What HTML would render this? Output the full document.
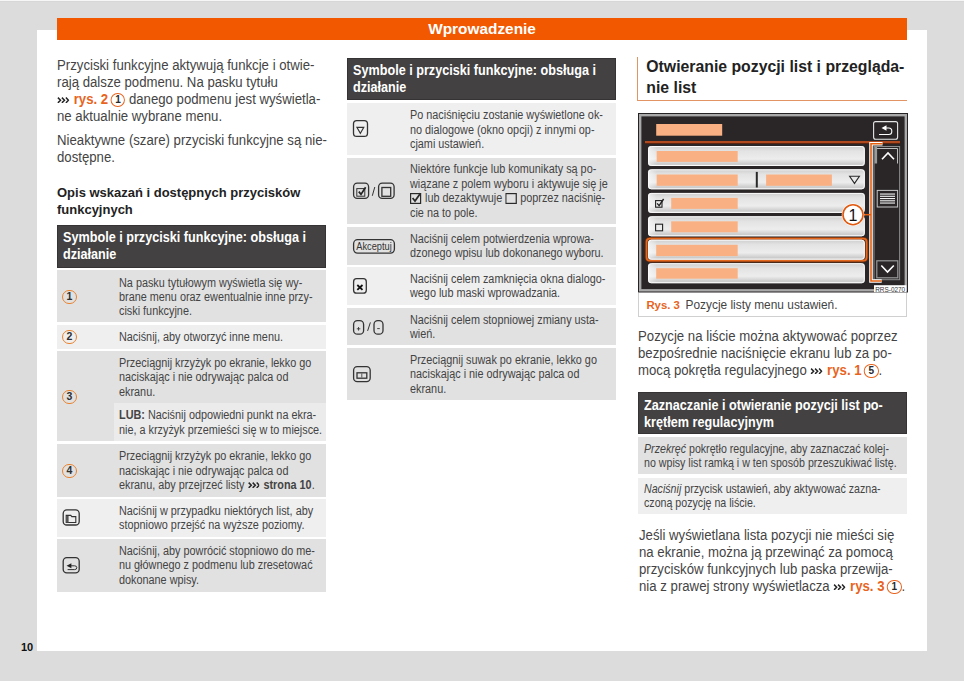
<!DOCTYPE html>
<html><head><meta charset="utf-8"><style>
html,body{margin:0;padding:0;}
body{width:964px;height:681px;background:#dcdcdc;position:relative;overflow:hidden;font-family:"Liberation Sans", sans-serif;}
.b{position:absolute;white-space:nowrap;}
.r{position:absolute;box-sizing:border-box;}
.lk{color:#e8641e;font-weight:bold;}
.ar{vertical-align:0.7px;}
.c{display:inline-block;box-sizing:border-box;width:14.5px;height:14.5px;border:1.4px solid #e8641e;border-radius:50%;text-align:center;line-height:11.7px;font-size:10.5px;font-weight:bold;vertical-align:1.3px;color:#2a2a2a;margin-left:-1.2px;}
.cc{position:absolute;box-sizing:border-box;width:14.3px;height:14.3px;border:1.5px solid #e8822e;border-radius:50%;text-align:center;font-size:10.5px;line-height:11.6px;font-weight:bold;color:#2e2e2e;}
.cbx{vertical-align:-1.5px;}
</style></head><body>
<div class="r" style="left:0px;top:0px;width:964.00px;height:1.00px;background:#f6f6f6;"></div>
<div class="r" style="left:0px;top:1px;width:964.00px;height:1.00px;background:#d7d7d7;"></div>
<div class="r" style="left:37px;top:30px;width:890.00px;height:621.00px;background:#fff;"></div>
<div class="r" style="left:57px;top:18px;width:850.00px;height:22.00px;background:#f25800;"></div>
<div class="b" style="left:57px;width:850px;text-align:center;top:18.50px;font-size:15.4px;line-height:20px;color:#fff;font-weight:bold">Wprowadzenie</div>
<div class="b" style="left:21px;top:640.00px;font-size:11px;line-height:14px;color:#111;font-weight:bold">10</div>
<div class="b" style="left:57px;top:56px;font-size:13.8px;line-height:19px;color:#444444;font-weight:normal;transform:scaleX(0.9565);transform-origin:0 0;--k:0.9565;">Przyciski funkcyjne aktywują funkcje i otwie-</div>
<div class="b" style="left:57px;top:73px;font-size:13.8px;line-height:19px;color:#444444;font-weight:normal;transform:scaleX(0.9565);transform-origin:0 0;--k:0.9565;">rają dalsze podmenu. Na pasku tytułu</div>
<div class="b" style="left:57px;top:90px;font-size:13.8px;line-height:19px;color:#444444;font-weight:normal;transform:scaleX(0.9565);transform-origin:0 0;--k:0.9565;"><svg class="ar" width="12.55" height="6.5" viewBox="0 0 12 6.5" preserveAspectRatio="none" style="margin-right:1.05px"><path d="M0.9 0.6 L3.5 3.25 L0.9 5.9 M4.9 0.6 L7.5 3.25 L4.9 5.9 M8.9 0.6 L11.4 3.25 L8.9 5.9" fill="none" stroke="#262626" stroke-width="1.5"/></svg> <b class="lk">rys. 2</b> <span class="c" style="width:15.16px">1</span> danego podmenu jest wyświetla-</div>
<div class="b" style="left:57px;top:107px;font-size:13.8px;line-height:19px;color:#444444;font-weight:normal;transform:scaleX(0.9565);transform-origin:0 0;--k:0.9565;">ne aktualnie wybrane menu.</div>
<div class="b" style="left:57px;top:131px;font-size:13.8px;line-height:19px;color:#444444;font-weight:normal;transform:scaleX(0.9565);transform-origin:0 0;--k:0.9565;">Nieaktywne (szare) przyciski funkcyjne są nie-</div>
<div class="b" style="left:57px;top:148px;font-size:13.8px;line-height:19px;color:#444444;font-weight:normal;transform:scaleX(0.9565);transform-origin:0 0;--k:0.9565;">dostępne.</div>
<div class="b" style="left:57px;top:183px;font-size:13.7px;line-height:19px;color:#222;font-weight:bold;transform:scaleX(0.9489);transform-origin:0 0;--k:0.9489;">Opis wskazań i dostępnych przycisków</div>
<div class="b" style="left:57px;top:200px;font-size:13.7px;line-height:19px;color:#222;font-weight:bold;transform:scaleX(0.9489);transform-origin:0 0;--k:0.9489;">funkcyjnych</div>
<div class="r" style="left:57px;top:225px;width:269.00px;height:43.00px;background:#434141;border:1px solid #353333"></div>
<div class="b" style="left:62.8px;top:227px;font-size:14.2px;line-height:20px;color:#fff;font-weight:bold;transform:scaleX(0.8908);transform-origin:0 0;--k:0.8908;">Symbole i przyciski funkcyjne: obsługa i</div>
<div class="b" style="left:62.8px;top:244px;font-size:14.2px;line-height:20px;color:#fff;font-weight:bold;transform:scaleX(0.8908);transform-origin:0 0;--k:0.8908;">działanie</div>
<div class="r" style="left:57px;top:270px;width:269.00px;height:51.80px;background:#e1e1e1;"></div>
<div class="b" style="left:119.2px;top:274px;font-size:12.3px;line-height:18px;color:#444444;font-weight:normal;transform:scaleX(0.8821);transform-origin:0 0;--k:0.8821;">Na pasku tytułowym wyświetla się wy-</div>
<div class="b" style="left:119.2px;top:288px;font-size:12.3px;line-height:18px;color:#444444;font-weight:normal;transform:scaleX(0.8821);transform-origin:0 0;--k:0.8821;">brane menu oraz ewentualnie inne przy-</div>
<div class="b" style="left:119.2px;top:302px;font-size:12.3px;line-height:18px;color:#444444;font-weight:normal;transform:scaleX(0.8821);transform-origin:0 0;--k:0.8821;">ciski funkcyjne.</div>
<div class="cc" style="left:62.3px;top:289.80px">1</div>
<div class="r" style="left:57px;top:325px;width:269.00px;height:23.90px;background:#efefef;"></div>
<div class="b" style="left:119.2px;top:328px;font-size:12.3px;line-height:18px;color:#444444;font-weight:normal;transform:scaleX(0.8821);transform-origin:0 0;--k:0.8821;">Naciśnij, aby otworzyć inne menu.</div>
<div class="cc" style="left:62.3px;top:329.80px">2</div>
<div class="r" style="left:57px;top:351px;width:269.00px;height:90.30px;background:#e1e1e1;"></div>
<div class="b" style="left:119.2px;top:354px;font-size:12.3px;line-height:18px;color:#444444;font-weight:normal;transform:scaleX(0.8821);transform-origin:0 0;--k:0.8821;">Przeciągnij krzyżyk po ekranie, lekko go</div>
<div class="b" style="left:119.2px;top:368px;font-size:12.3px;line-height:18px;color:#444444;font-weight:normal;transform:scaleX(0.8821);transform-origin:0 0;--k:0.8821;">naciskając i nie odrywając palca od</div>
<div class="b" style="left:119.2px;top:383px;font-size:12.3px;line-height:18px;color:#444444;font-weight:normal;transform:scaleX(0.8821);transform-origin:0 0;--k:0.8821;">ekranu.</div>
<div class="cc" style="left:62.3px;top:389.70px">3</div>
<div class="r" style="left:57px;top:444px;width:269.00px;height:52.50px;background:#e1e1e1;"></div>
<div class="b" style="left:119.2px;top:447px;font-size:12.3px;line-height:18px;color:#444444;font-weight:normal;transform:scaleX(0.8821);transform-origin:0 0;--k:0.8821;">Przeciągnij krzyżyk po ekranie, lekko go</div>
<div class="b" style="left:119.2px;top:462px;font-size:12.3px;line-height:18px;color:#444444;font-weight:normal;transform:scaleX(0.8821);transform-origin:0 0;--k:0.8821;">naciskając i nie odrywając palca od</div>
<div class="b" style="left:119.2px;top:476px;font-size:12.3px;line-height:18px;color:#444444;font-weight:normal;transform:scaleX(0.8821);transform-origin:0 0;--k:0.8821;">ekranu, aby przejrzeć listy <svg class="ar" width="13.60" height="6.5" viewBox="0 0 12 6.5" preserveAspectRatio="none" style="margin-right:1.13px"><path d="M0.9 0.6 L3.5 3.25 L0.9 5.9 M4.9 0.6 L7.5 3.25 L4.9 5.9 M8.9 0.6 L11.4 3.25 L8.9 5.9" fill="none" stroke="#262626" stroke-width="1.5"/></svg> <b>strona 10</b>.</div>
<div class="cc" style="left:62.3px;top:463.50px">4</div>
<div class="r" style="left:57px;top:499.3px;width:269.00px;height:37.70px;background:#efefef;"></div>
<div class="b" style="left:119.2px;top:502px;font-size:12.3px;line-height:18px;color:#444444;font-weight:normal;transform:scaleX(0.8821);transform-origin:0 0;--k:0.8821;">Naciśnij w przypadku niektórych list, aby</div>
<div class="b" style="left:119.2px;top:516px;font-size:12.3px;line-height:18px;color:#444444;font-weight:normal;transform:scaleX(0.8821);transform-origin:0 0;--k:0.8821;">stopniowo przejść na wyższe poziomy.</div>
<svg class="r" style="left:0;top:0" width="120" height="600" viewBox="0 0 120 600"><rect x="63.2" y="509.9" width="16" height="15.1" rx="3.6" fill="none" stroke="#333" stroke-width="1.3"/><path d="M66.2 522.5 V515.4 H70.8 L71.8 516.6 H75.8 V522.5 Z" fill="none" stroke="#333" stroke-width="1.1"/><rect x="66.2" y="516" width="2.4" height="6.5" fill="#555"/></svg>
<div class="r" style="left:57px;top:539.4px;width:269.00px;height:52.60px;background:#e1e1e1;"></div>
<div class="b" style="left:119.2px;top:542px;font-size:12.3px;line-height:18px;color:#444444;font-weight:normal;transform:scaleX(0.8821);transform-origin:0 0;--k:0.8821;">Naciśnij, aby powrócić stopniowo do me-</div>
<div class="b" style="left:119.2px;top:556px;font-size:12.3px;line-height:18px;color:#444444;font-weight:normal;transform:scaleX(0.8821);transform-origin:0 0;--k:0.8821;">nu głównego z podmenu lub zresetować</div>
<div class="b" style="left:119.2px;top:571px;font-size:12.3px;line-height:18px;color:#444444;font-weight:normal;transform:scaleX(0.8821);transform-origin:0 0;--k:0.8821;">dokonane wpisy.</div>
<svg class="r" style="left:0;top:0" width="120" height="600" viewBox="0 0 120 600"><rect x="63.2" y="557.6" width="16" height="15.2" rx="3.6" fill="none" stroke="#333" stroke-width="1.3"/><path d="M66.6 565.7 L71.4 563.2 V568.2 Z" fill="#222"/><path d="M71 565.8 H74.6 Q76.8 565.8 76.8 567.7 Q76.8 569.6 74.6 569.6 H67.6" fill="none" stroke="#333" stroke-width="1"/></svg>
<div class="r" style="left:113.7px;top:402.6px;width:212.30px;height:38.70px;background:#ebebeb;"></div>
<div class="b" style="left:119.2px;top:406px;font-size:12.3px;line-height:18px;color:#444444;font-weight:normal;transform:scaleX(0.8821);transform-origin:0 0;--k:0.8821;"><b>LUB:</b> Naciśnij odpowiedni punkt na ekra-</div>
<div class="b" style="left:119.2px;top:421px;font-size:12.3px;line-height:18px;color:#444444;font-weight:normal;transform:scaleX(0.8821);transform-origin:0 0;--k:0.8821;">nie, a krzyżyk przemieści się w to miejsce.</div>
<div class="r" style="left:347px;top:57.5px;width:269.00px;height:42.70px;background:#434141;border:1px solid #353333"></div>
<div class="b" style="left:353.3px;top:60px;font-size:14.2px;line-height:20px;color:#fff;font-weight:bold;transform:scaleX(0.8908);transform-origin:0 0;--k:0.8908;">Symbole i przyciski funkcyjne: obsługa i</div>
<div class="b" style="left:353.3px;top:77px;font-size:14.2px;line-height:20px;color:#fff;font-weight:bold;transform:scaleX(0.8908);transform-origin:0 0;--k:0.8908;">działanie</div>
<div class="r" style="left:347px;top:102.5px;width:269.00px;height:52.50px;background:#efefef;"></div>
<div class="b" style="left:409.6px;top:106px;font-size:12.3px;line-height:18px;color:#444444;font-weight:normal;transform:scaleX(0.8821);transform-origin:0 0;--k:0.8821;">Po naciśnięciu zostanie wyświetlone ok-</div>
<div class="b" style="left:409.6px;top:121px;font-size:12.3px;line-height:18px;color:#444444;font-weight:normal;transform:scaleX(0.8821);transform-origin:0 0;--k:0.8821;">no dialogowe (okno opcji) z innymi op-</div>
<div class="b" style="left:409.6px;top:135px;font-size:12.3px;line-height:18px;color:#444444;font-weight:normal;transform:scaleX(0.8821);transform-origin:0 0;--k:0.8821;">cjami ustawień.</div>
<div class="r" style="left:347px;top:157.8px;width:269.00px;height:66.20px;background:#e1e1e1;"></div>
<div class="b" style="left:409.6px;top:160px;font-size:12.3px;line-height:18px;color:#444444;font-weight:normal;transform:scaleX(0.8821);transform-origin:0 0;--k:0.8821;">Niektóre funkcje lub komunikaty są po-</div>
<div class="b" style="left:409.6px;top:175px;font-size:12.3px;line-height:18px;color:#444444;font-weight:normal;transform:scaleX(0.8821);transform-origin:0 0;--k:0.8821;">wiązane z polem wyboru i aktywuje się je</div>
<div class="b" style="left:409.6px;top:189px;font-size:12.3px;line-height:18px;color:#444444;font-weight:normal;transform:scaleX(0.8821);transform-origin:0 0;--k:0.8821;"><svg class="cbx" width="13.60" height="12" viewBox="0 0 12 12" preserveAspectRatio="none"><rect x="0.6" y="1.6" width="10" height="9.8" fill="none" stroke="#2a2a2a" stroke-width="1.2"/><path d="M2.6 6 L5 9 L10.5 1.2" fill="none" stroke="#2a2a2a" stroke-width="1.8"/></svg> lub dezaktywuje <svg class="cbx" width="13.60" height="12" viewBox="0 0 12 12" preserveAspectRatio="none"><rect x="0.6" y="1.6" width="10.4" height="9.8" fill="none" stroke="#2a2a2a" stroke-width="1.2"/></svg> poprzez naciśnię-</div>
<div class="b" style="left:409.6px;top:204px;font-size:12.3px;line-height:18px;color:#444444;font-weight:normal;transform:scaleX(0.8821);transform-origin:0 0;--k:0.8821;">cie na to pole.</div>
<div class="r" style="left:347px;top:227px;width:269.00px;height:37.50px;background:#e1e1e1;"></div>
<div class="b" style="left:409.6px;top:230px;font-size:12.3px;line-height:18px;color:#444444;font-weight:normal;transform:scaleX(0.8821);transform-origin:0 0;--k:0.8821;">Naciśnij celem potwierdzenia wprowa-</div>
<div class="b" style="left:409.6px;top:244px;font-size:12.3px;line-height:18px;color:#444444;font-weight:normal;transform:scaleX(0.8821);transform-origin:0 0;--k:0.8821;">dzonego wpisu lub dokonanego wyboru.</div>
<div class="r" style="left:347px;top:267.4px;width:269.00px;height:37.40px;background:#efefef;"></div>
<div class="b" style="left:409.6px;top:270px;font-size:12.3px;line-height:18px;color:#444444;font-weight:normal;transform:scaleX(0.8821);transform-origin:0 0;--k:0.8821;">Naciśnij celem zamknięcia okna dialogo-</div>
<div class="b" style="left:409.6px;top:284px;font-size:12.3px;line-height:18px;color:#444444;font-weight:normal;transform:scaleX(0.8821);transform-origin:0 0;--k:0.8821;">wego lub maski wprowadzania.</div>
<div class="r" style="left:347px;top:308px;width:269.00px;height:37.30px;background:#e1e1e1;"></div>
<div class="b" style="left:409.6px;top:311px;font-size:12.3px;line-height:18px;color:#444444;font-weight:normal;transform:scaleX(0.8821);transform-origin:0 0;--k:0.8821;">Naciśnij celem stopniowej zmiany usta-</div>
<div class="b" style="left:409.6px;top:325px;font-size:12.3px;line-height:18px;color:#444444;font-weight:normal;transform:scaleX(0.8821);transform-origin:0 0;--k:0.8821;">wień.</div>
<div class="r" style="left:347px;top:348.4px;width:269.00px;height:51.80px;background:#e1e1e1;"></div>
<div class="b" style="left:409.6px;top:351px;font-size:12.3px;line-height:18px;color:#444444;font-weight:normal;transform:scaleX(0.8821);transform-origin:0 0;--k:0.8821;">Przeciągnij suwak po ekranie, lekko go</div>
<div class="b" style="left:409.6px;top:365px;font-size:12.3px;line-height:18px;color:#444444;font-weight:normal;transform:scaleX(0.8821);transform-origin:0 0;--k:0.8821;">naciskając i nie odrywając palca od</div>
<div class="b" style="left:409.6px;top:380px;font-size:12.3px;line-height:18px;color:#444444;font-weight:normal;transform:scaleX(0.8821);transform-origin:0 0;--k:0.8821;">ekranu.</div>
<svg class="r" style="left:340px;top:100px" width="70" height="300" viewBox="340 100 70 300"><rect x="353.5" y="120.6" width="14" height="15.8" rx="3.2" fill="none" stroke="#333" stroke-width="1.3"/><path d="M356.9 127.4 H363.8 L360.35 133.3 Z" fill="none" stroke="#333" stroke-width="1.1"/><rect x="353.6" y="183.1" width="15" height="15.3" rx="3.6" fill="none" stroke="#333" stroke-width="1.3"/><rect x="356.8" y="188.6" width="8" height="7.6" fill="none" stroke="#333" stroke-width="1"/><path d="M358.8 191.6 L361 194.4 L365.6 187.2" fill="none" stroke="#222" stroke-width="1.7"/><path d="M374.8 187 L372.3 195.8" stroke="#333" stroke-width="1"/><rect x="378.6" y="183.1" width="15.5" height="15.3" rx="3.6" fill="none" stroke="#333" stroke-width="1.3"/><rect x="381.9" y="187.5" width="8.8" height="8.8" fill="none" stroke="#333" stroke-width="1.3"/><rect x="353.6" y="239.7" width="40.8" height="13.4" rx="4" fill="none" stroke="#333" stroke-width="1.3"/><text x="374" y="250.4" text-anchor="middle" font-family="Liberation Sans" font-size="10.4" fill="#333" textLength="35.5" lengthAdjust="spacingAndGlyphs">Akceptuj</text><rect x="353.6" y="278.7" width="12.7" height="14.5" rx="3" fill="none" stroke="#333" stroke-width="1.3"/><path d="M357.3 285 L362.5 289.8 M362.5 285 L357.3 289.8" stroke="#111" stroke-width="1.8"/><rect x="353.6" y="320.6" width="10" height="13.6" rx="3.8" fill="none" stroke="#333" stroke-width="1.3"/><path d="M356.8 328.8 H360.3 M358.55 327 V330.6" stroke="#333" stroke-width="0.9"/><path d="M370.4 322.4 L367.6 330.9" stroke="#333" stroke-width="1"/><rect x="374" y="320.6" width="9" height="13.6" rx="3.8" fill="none" stroke="#333" stroke-width="1.3"/><path d="M377.2 328.6 H379.8" stroke="#333" stroke-width="0.9"/><rect x="353.6" y="366.6" width="16.6" height="15" rx="3.6" fill="none" stroke="#333" stroke-width="1.3"/><rect x="357" y="372.8" width="9.8" height="5.4" fill="none" stroke="#333" stroke-width="1.3"/><path d="M361.8 373.4 V377.6" stroke="#555" stroke-width="1"/></svg>
<div class="r" style="left:637px;top:57px;width:1.00px;height:44.00px;background:#e39465;"></div>
<div class="r" style="left:637px;top:100px;width:270.00px;height:1.00px;background:#e39465;"></div>
<div class="b" style="left:646.3px;top:56px;font-size:15.8px;line-height:21px;color:#222;font-weight:bold;">Otwieranie pozycji list i przegląda-</div>
<div class="b" style="left:646.3px;top:77px;font-size:15.8px;line-height:21px;color:#222;font-weight:bold;">nie list</div>
<svg class="r" style="left:636px;top:110px" width="275" height="185" viewBox="636 110 275 185"><defs><linearGradient id="ig" x1="0" y1="0" x2="0" y2="1"><stop offset="0" stop-color="#cdcdcd"/><stop offset="0.25" stop-color="#e3e3e3"/><stop offset="0.65" stop-color="#ededed"/><stop offset="0.9" stop-color="#cbcbcb"/><stop offset="1" stop-color="#d8d8d8"/></linearGradient><linearGradient id="lg" x1="0" y1="0" x2="1" y2="0"><stop offset="0" stop-color="#fff" stop-opacity="0.5"/><stop offset="1" stop-color="#fff" stop-opacity="0"/></linearGradient></defs><rect x="638" y="113" width="270" height="179.5" fill="#262324"/><rect x="640.2" y="115.2" width="265.6" height="175.1" fill="#2a2627" stroke="#a9a9a9" stroke-width="2.4"/><rect x="656.2" y="124" width="66" height="11.7" fill="#f9b184"/><rect x="873.6" y="121.6" width="24" height="17.6" rx="2" fill="none" stroke="#e6e6e6" stroke-width="1.1"/><path d="M881.5 128 L886.5 125.3 V130.8 Z" fill="#fff"/><path d="M886 128 H888.8 Q891.8 128 891.8 131.2 Q891.8 134.5 888.8 134.5 H879" fill="none" stroke="#fff" stroke-width="1.1"/><rect x="645" y="141" width="255" height="2" fill="#b04a1e"/><rect x="645" y="143" width="255" height="1" fill="#5a2410"/><rect x="648" y="146" width="216.8" height="20" rx="3" fill="url(#ig)"/><rect x="648.5" y="146.5" width="215.8" height="19" rx="2.8" fill="none" stroke="#fafafa" stroke-width="1"/><rect x="649" y="147" width="8" height="18" fill="url(#lg)"/><rect x="648" y="169.3" width="216.8" height="20" rx="3" fill="url(#ig)"/><rect x="648.5" y="169.8" width="215.8" height="19" rx="2.8" fill="none" stroke="#fafafa" stroke-width="1"/><rect x="649" y="170.3" width="8" height="18" fill="url(#lg)"/><rect x="648" y="192.9" width="216.8" height="20" rx="3" fill="url(#ig)"/><rect x="648.5" y="193.4" width="215.8" height="19" rx="2.8" fill="none" stroke="#fafafa" stroke-width="1"/><rect x="649" y="193.9" width="8" height="18" fill="url(#lg)"/><rect x="648" y="216.3" width="216.8" height="20" rx="3" fill="url(#ig)"/><rect x="648.5" y="216.8" width="215.8" height="19" rx="2.8" fill="none" stroke="#fafafa" stroke-width="1"/><rect x="649" y="217.3" width="8" height="18" fill="url(#lg)"/><rect x="646.3" y="238.39999999999998" width="220.6" height="22.6" rx="3.5" fill="none" stroke="#6a2c0c" stroke-width="3"/><rect x="646.6" y="238.7" width="220" height="22" rx="3.2" fill="none" stroke="#e4691e" stroke-width="1.8"/><rect x="648" y="239.7" width="216.8" height="20" rx="3" fill="url(#ig)"/><rect x="648.5" y="240.2" width="215.8" height="19" rx="2.8" fill="none" stroke="#fafafa" stroke-width="1"/><rect x="649" y="240.7" width="8" height="18" fill="url(#lg)"/><rect x="648" y="263.2" width="216.8" height="20" rx="3" fill="url(#ig)"/><rect x="648.5" y="263.7" width="215.8" height="19" rx="2.8" fill="none" stroke="#fafafa" stroke-width="1"/><rect x="649" y="264.2" width="8" height="18" fill="url(#lg)"/><rect x="656.7" y="151" width="81" height="10.9" fill="#f9b184"/><rect x="656.7" y="174.5" width="81" height="11.3" fill="#f9b184"/><rect x="755.8" y="171.9" width="2" height="15.6" fill="#2a2a2a"/><rect x="766.1" y="174.5" width="65.8" height="11.3" fill="#f9b184"/><path d="M849.6 176.2 H859.4 L854.5 183.4 Z" fill="none" stroke="#2a2a2a" stroke-width="1.1"/><rect x="671.2" y="197.9" width="66.5" height="11" fill="#f9b184"/><rect x="655.6" y="200.6" width="6.4" height="6.6" fill="none" stroke="#222" stroke-width="1.1"/><path d="M657.1 203.4 L659.1 205.6 L663.6 199" fill="none" stroke="#222" stroke-width="1.4"/><rect x="671.2" y="221.3" width="66.5" height="11" fill="#f9b184"/><rect x="655.6" y="224.2" width="7" height="6.6" fill="none" stroke="#222" stroke-width="1.1"/><rect x="656.2" y="244.8" width="81.5" height="11.3" fill="#f9b184"/><rect x="656.2" y="268.2" width="81.5" height="10.5" fill="#f9b184"/><rect x="874" y="146.5" width="25.6" height="133.2" fill="#2a2627" stroke="#8c8c8c" stroke-width="1"/><rect x="874.5" y="147" width="2.6" height="16.5" fill="#9a9a9a"/><path d="M876.8 148.5 H897.5 V163.5" fill="none" stroke="#bdbdbd" stroke-width="1"/><path d="M882 159.3 L888 153 L894 159.3" fill="none" stroke="#fff" stroke-width="1.6"/><rect x="877.2" y="190.4" width="20.4" height="16.6" fill="#2a2627" stroke="#c8c8c8" stroke-width="1"/><rect x="880" y="193.5" width="15" height="1.1" fill="#f4f4f4"/><rect x="880" y="195.75" width="15" height="1.1" fill="#f4f4f4"/><rect x="880" y="198.0" width="15" height="1.1" fill="#f4f4f4"/><rect x="880" y="200.25" width="15" height="1.1" fill="#f4f4f4"/><rect x="880" y="202.5" width="15" height="1.1" fill="#f4f4f4"/><rect x="876.8" y="260.8" width="21" height="17" fill="#2a2627" stroke="#9a9a9a" stroke-width="1.2"/><path d="M881.3 265.5 L887.5 272 L893.8 265.5" fill="none" stroke="#fff" stroke-width="1.6"/><path d="M882.5 143.8 H871 V281 H881.7" fill="none" stroke="#fff" stroke-width="3.6"/><path d="M882.5 143.8 H871 V281 H881.7" fill="none" stroke="#e4600f" stroke-width="1.6"/><path d="M864 214.7 H871" fill="none" stroke="#e4600f" stroke-width="1.5"/><circle cx="853" cy="214.7" r="11.3" fill="#fff"/><circle cx="853" cy="214.7" r="10" fill="#fff" stroke="#e05a10" stroke-width="1.6"/><text x="853" y="220.6" text-anchor="middle" font-family="Liberation Sans" font-size="16" fill="#111">1</text><rect x="874" y="285.2" width="32.4" height="7" fill="#fff"/><text x="890.2" y="291.6" text-anchor="middle" font-family="Liberation Sans" font-size="7.2" fill="#333" textLength="30" lengthAdjust="spacingAndGlyphs">RRS-0270</text></svg>
<div class="r" style="left:638px;top:292.5px;width:269px;height:24px;border:1px solid #d0d0d0;border-top:0"></div>
<div class="b" style="left:646.4px;top:297px;font-size:11.4px;line-height:16px;color:#3a3a3a;font-weight:normal;"><b class="lk">Rys. 3</b></div>
<div class="b" style="left:685.5px;top:296px;font-size:11.9px;line-height:18px;color:#444444;font-weight:normal;">Pozycje listy menu ustawień.</div>
<div class="b" style="left:638.2px;top:327px;font-size:13.8px;line-height:19px;color:#444444;font-weight:normal;transform:scaleX(0.9565);transform-origin:0 0;--k:0.9565;">Pozycje na liście można aktywować poprzez</div>
<div class="b" style="left:638.2px;top:344px;font-size:13.8px;line-height:19px;color:#444444;font-weight:normal;transform:scaleX(0.9565);transform-origin:0 0;--k:0.9565;">bezpośrednie naciśnięcie ekranu lub za po-</div>
<div class="b" style="left:638.2px;top:361px;font-size:13.8px;line-height:19px;color:#444444;font-weight:normal;transform:scaleX(0.9565);transform-origin:0 0;--k:0.9565;">mocą pokrętła regulacyjnego <svg class="ar" width="12.55" height="6.5" viewBox="0 0 12 6.5" preserveAspectRatio="none" style="margin-right:1.05px"><path d="M0.9 0.6 L3.5 3.25 L0.9 5.9 M4.9 0.6 L7.5 3.25 L4.9 5.9 M8.9 0.6 L11.4 3.25 L8.9 5.9" fill="none" stroke="#262626" stroke-width="1.5"/></svg> <b class="lk">rys. 1</b> <span class="c" style="width:15.16px">5</span>.</div>
<div class="r" style="left:638px;top:392px;width:269.00px;height:42.40px;background:#434141;border:1px solid #353333"></div>
<div class="b" style="left:644px;top:395px;font-size:14.2px;line-height:20px;color:#fff;font-weight:bold;transform:scaleX(0.8908);transform-origin:0 0;--k:0.8908;">Zaznaczanie i otwieranie pozycji list po-</div>
<div class="b" style="left:644px;top:412px;font-size:14.2px;line-height:20px;color:#fff;font-weight:bold;transform:scaleX(0.8908);transform-origin:0 0;--k:0.8908;">krętłem regulacyjnym</div>
<div class="r" style="left:638px;top:436.8px;width:269.00px;height:37.40px;background:#e1e1e1;"></div>
<div class="b" style="left:644px;top:440px;font-size:12.1px;line-height:18px;color:#444444;font-weight:normal;transform:scaleX(0.8802);transform-origin:0 0;--k:0.8802;"><i>Przekręć</i> pokrętło regulacyjne, aby zaznaczać kolej-</div>
<div class="b" style="left:644px;top:454px;font-size:12.1px;line-height:18px;color:#444444;font-weight:normal;transform:scaleX(0.8802);transform-origin:0 0;--k:0.8802;">no wpisy list ramką i w ten sposób przeszukiwać listę.</div>
<div class="r" style="left:638px;top:477.9px;width:269.00px;height:36.60px;background:#efefef;"></div>
<div class="b" style="left:644px;top:480px;font-size:12.1px;line-height:18px;color:#444444;font-weight:normal;transform:scaleX(0.8802);transform-origin:0 0;--k:0.8802;"><i>Naciśnij</i> przycisk ustawień, aby aktywować zazna-</div>
<div class="b" style="left:644px;top:494px;font-size:12.1px;line-height:18px;color:#444444;font-weight:normal;transform:scaleX(0.8802);transform-origin:0 0;--k:0.8802;">czoną pozycję na liście.</div>
<div class="b" style="left:638.6px;top:526px;font-size:13.8px;line-height:19px;color:#444444;font-weight:normal;transform:scaleX(0.9565);transform-origin:0 0;--k:0.9565;">Jeśli wyświetlana lista pozycji nie mieści się</div>
<div class="b" style="left:638.6px;top:543px;font-size:13.8px;line-height:19px;color:#444444;font-weight:normal;transform:scaleX(0.9565);transform-origin:0 0;--k:0.9565;">na ekranie, można ją przewinąć za pomocą</div>
<div class="b" style="left:638.6px;top:560px;font-size:13.8px;line-height:19px;color:#444444;font-weight:normal;transform:scaleX(0.9565);transform-origin:0 0;--k:0.9565;">przycisków funkcyjnych lub paska przewija-</div>
<div class="b" style="left:638.6px;top:577px;font-size:13.8px;line-height:19px;color:#444444;font-weight:normal;transform:scaleX(0.9565);transform-origin:0 0;--k:0.9565;">nia z prawej strony wyświetlacza <svg class="ar" width="12.55" height="6.5" viewBox="0 0 12 6.5" preserveAspectRatio="none" style="margin-right:1.05px"><path d="M0.9 0.6 L3.5 3.25 L0.9 5.9 M4.9 0.6 L7.5 3.25 L4.9 5.9 M8.9 0.6 L11.4 3.25 L8.9 5.9" fill="none" stroke="#262626" stroke-width="1.5"/></svg> <b class="lk">rys. 3</b> <span class="c" style="width:15.16px">1</span>.</div>
</body></html>
